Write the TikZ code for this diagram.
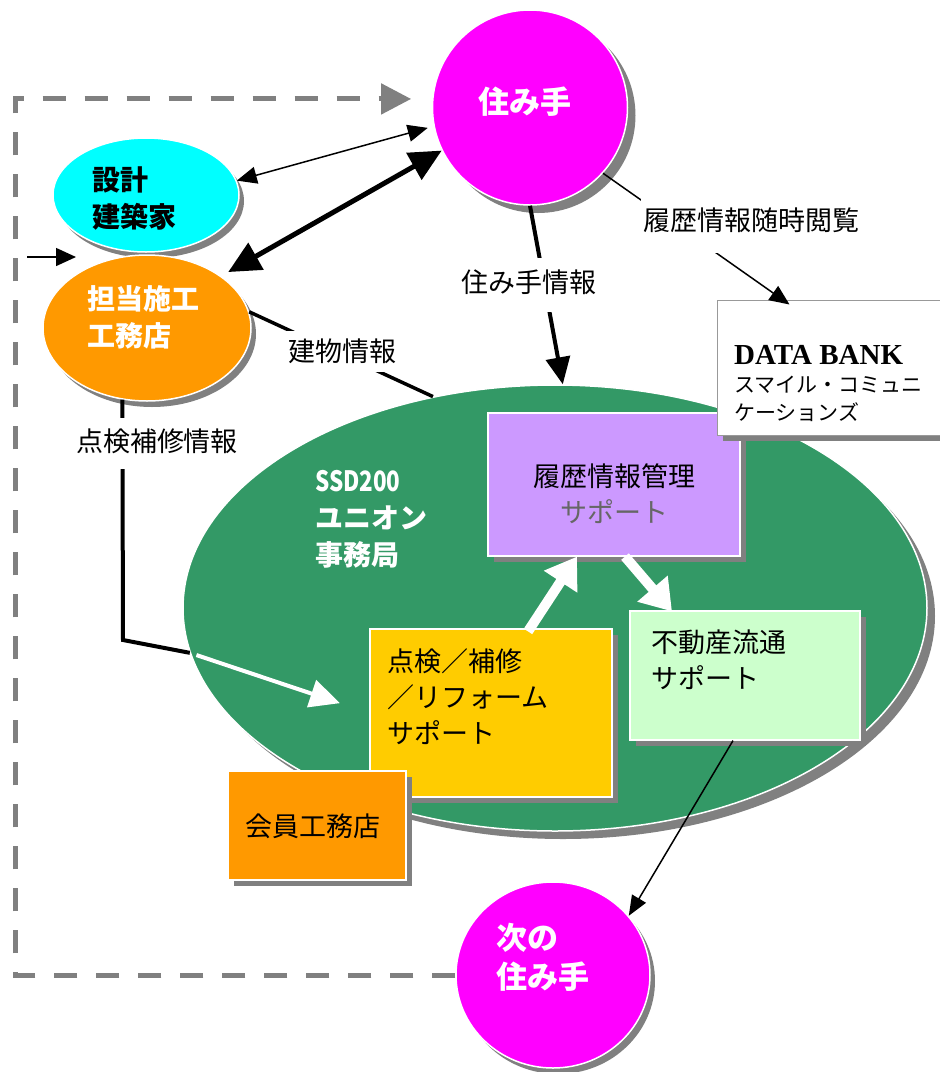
\documentclass[tikz,border=0pt]{standalone}
\usepackage{fontspec}
\newfontfamily\jp{Noto Sans CJK JP}
\newfontfamily\tms{Liberation Serif}
\usetikzlibrary{shapes.geometric,arrows.meta,shadows,calc}
\definecolor{mag}{HTML}{FF00FF}
\definecolor{cya}{HTML}{00FFFF}
\definecolor{org}{HTML}{FF9900}
\definecolor{grn}{HTML}{339966}
\definecolor{lav}{HTML}{CC99FF}
\definecolor{yel}{HTML}{FFCC00}
\definecolor{lgr}{HTML}{CCFFCC}
\definecolor{shgray}{HTML}{808080}
\definecolor{dbborder}{HTML}{999999}
\definecolor{subgray}{HTML}{666666}
\begin{document}
\begin{tikzpicture}[x=1pt,y=-1pt,
  ell/.style={ellipse,draw=white,line width=1.5pt,inner sep=0pt},
  boxst/.style={rectangle,draw=white,line width=1.2pt,inner sep=0pt},
  shA/.style={drop shadow={shadow xshift=8pt,shadow yshift=-8pt,fill=shgray,opacity=1}},
  shB/.style={drop shadow={shadow xshift=5pt,shadow yshift=-6pt,fill=shgray,opacity=1}},
  shC/.style={drop shadow={shadow xshift=6pt,shadow yshift=-6pt,fill=shgray,opacity=1}},
  boldtxt/.style={font=\jp\bfseries\fontsize{28}{37}\selectfont,align=left,inner sep=0pt},
  boxtxt/.style={font=\jp\fontsize{27}{36}\selectfont,inner sep=0pt},
  lbl/.style={font=\jp\fontsize{27}{32}\selectfont,fill=white,inner xsep=2pt,text height=23.5pt,anchor=base},
  thinarr/.style={line width=1.5pt},
  thickline/.style={line width=4pt},
  whitearr/.style={draw=white,line width=10pt,-{Triangle[length=30pt,width=38pt]}},
  dashline/.style={draw=shgray,line width=5pt,dash pattern=on 23pt off 19pt,-{Triangle[length=30pt,width=30pt]}}
]
\useasboundingbox (0,0) rectangle (940,1072);
\fill[white] (0,0) rectangle (940,1072);

% shapes
\node[ell,fill=grn,minimum width=744pt,minimum height=446pt,shA] (ssd) at (555,608) {};
\node[ell,fill=cya,minimum width=186pt,minimum height=114pt,shB] (sekkei) at (146,195) {};
\node[ell,fill=org,minimum width=208pt,minimum height=146pt,shB] (tanto) at (147,328) {};
\node[ell,fill=mag,minimum width=195pt,minimum height=195pt,shA] (sumite) at (530,107.5) {};
\node[ell,fill=mag,minimum width=194pt,minimum height=186pt,shB] (tsugi) at (553,975) {};
\node[boxst,fill=lav,minimum width=252pt,minimum height=143pt,shC] (rireki) at (614,484.5) {};
\node[rectangle,draw=dbborder,line width=1pt,fill=white,minimum width=233pt,minimum height=135pt,shC] (databank) at (833.5,367.5) {};
\node[boxst,fill=lgr,minimum width=230pt,minimum height=129pt,shC] (fudosan) at (745,675.5) {};
\node[boxst,fill=yel,minimum width=242pt,minimum height=168pt,shC] (tenken) at (491,713) {};
\node[boxst,fill=org,minimum width=178pt,minimum height=109pt,shC] (kaiin) at (317,825.5) {};

% texts in shapes
\node[boldtxt,text=white,font=\jp\bfseries\fontsize{31}{38}\selectfont] (sumitet) at (525,101.5) {住み手};
\node[boldtxt,text=black,anchor=west] (sekkeit) at (92,198) {設計\\建築家};
\node[boldtxt,text=white,anchor=west] (tantot) at (87,317.5) {担当施工\\工務店};
\node[boldtxt,text=white,anchor=west] (ssdt) at (315,519) {\scalebox{0.8}[1]{SSD200}\\ユニオン\\事務局};
\node[boldtxt,text=white,anchor=west,font=\jp\bfseries\fontsize{31}{39}\selectfont] (tsugit) at (496,957.5) {次の\\住み手};
\node[boxtxt,align=center] (rirekit) at (614,493.5) {履歴情報管理\\\textcolor{subgray}{サポート}};
\node[boxtxt,align=left,anchor=west] (tenkent) at (387,697) {点検／補修\\／リフォーム\\サポート};
\node[boxtxt,align=left,anchor=west] (fudosant) at (651,659.5) {不動産流通\\サポート};
\node[boxtxt] (kaiint) at (313,826) {会員工務店};
\node[font=\tms\bfseries\fontsize{29}{32}\selectfont,inner sep=0pt,anchor=base west] (dbt) at (734,364) {DATA BANK};
\node[font=\jp\fontsize{21}{28}\selectfont,inner sep=0pt,align=left,anchor=west] (dbsub) at (734,399) {スマイル・コミュニ\\ケーションズ};

% connectors
\draw[dashline,shorten >=21pt] (tsugi.west) -| (15,500) coordinate (dashleft) |- (sumite.175);
\coordinate (ina) at (27,257);
\coordinate (inb) at (76,257);
\draw[thinarr,-{Triangle[length=20pt,width=18pt]}] (ina) -- (inb);
\draw[thinarr,{Triangle[length=20pt,width=17pt]}-{Triangle[length=20pt,width=17pt]},shorten >=6pt] (sekkei.9) -- (sumite.191);
\draw[line width=5pt,{Triangle[length=32pt,width=30pt]}-{Triangle[length=32pt,width=30pt]},shorten <=8pt] (tanto.35) -- (sumite.206);
\draw[line width=3.5pt] (tanto.9) -- (ssd.120);
\draw[thickline,-{Triangle[length=27pt,width=24pt]}] (sumite.south) -- (ssd.88);
\draw[thinarr,-{Triangle[length=20pt,width=17pt]}] (sumite.-42) -- ($(databank.north west)+(73,5)$);
\coordinate (tkcorner) at (123,640);
\draw[thickline] (tanto.-109) -- (tkcorner) -- (ssd.187);
\draw[draw=white,line width=4pt,-{Triangle[length=30pt,width=28pt]},shorten <=7pt,shorten >=31pt] (ssd.187) -- (tenken.west);
\draw[whitearr] ($(tenken.north)+(37,3)$) -- ($(rireki.south)+(-37,0)$);
\draw[whitearr] ($(rireki.south)+(11,0)$) -- ($(fudosan.north)+(-73,1)$);
\draw[thinarr,-{Triangle[length=20pt,width=16pt]}] ($(fudosan.south)+(-12,0)$) -- (tsugi.38);

% labels on connectors
\node[lbl,inner ysep=11pt,text depth=9pt] (sumiteinfo) at (529,292) {住み手情報};
\node[lbl,inner ysep=7pt,text depth=4pt] (kenbutsu) at (342,361) {建物情報};
\node[lbl,inner ysep=10pt,text depth=8pt] (tenkeninfo) at (157,451) {点検補修情報};
\node[lbl,inner ysep=8pt,text depth=15pt] (etsuran) at (751,230) {履歴情報随時閲覧};
\end{tikzpicture}
\end{document}
